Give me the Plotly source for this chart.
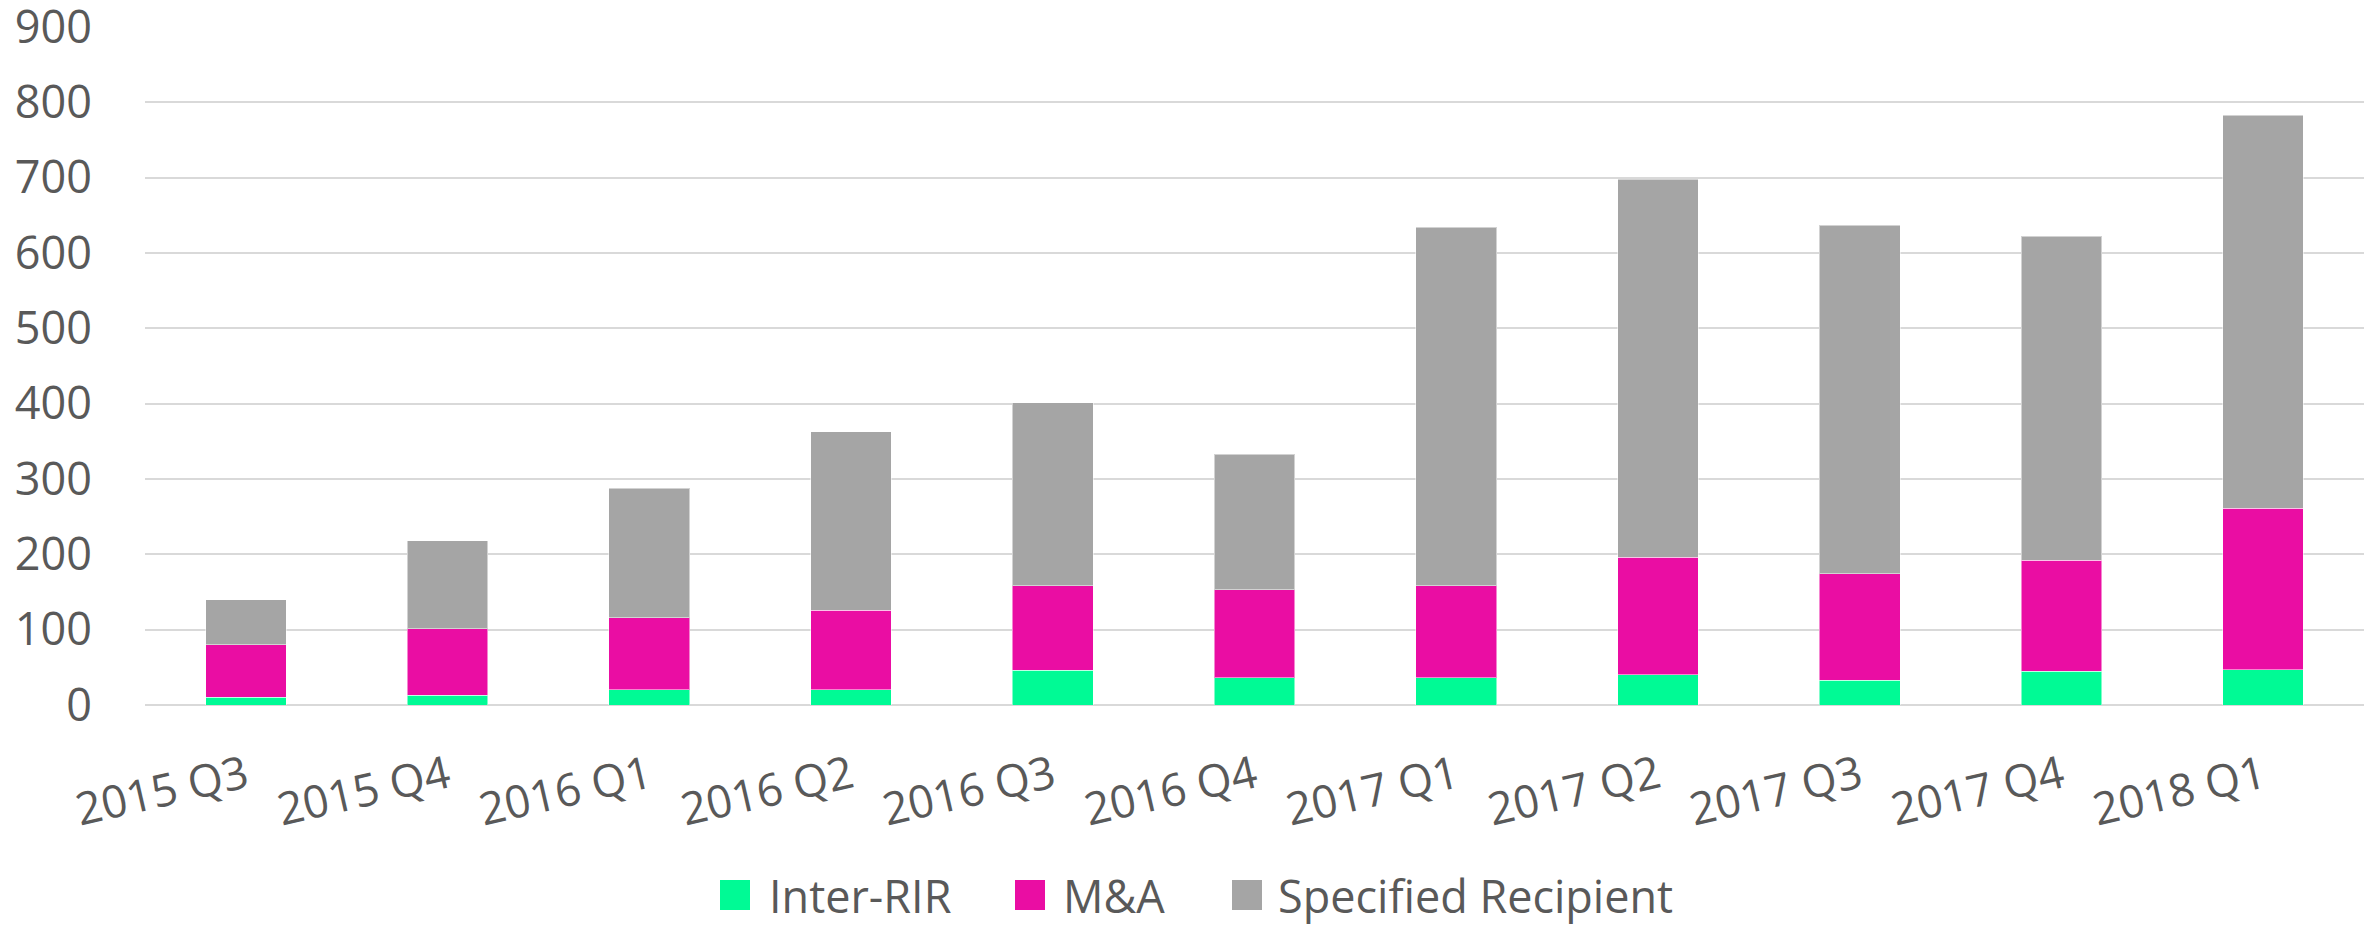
import plotly.graph_objects as go

quarters = ["2015 Q3", "2015 Q4", "2016 Q1", "2016 Q2", "2016 Q3", "2016 Q4",
            "2017 Q1", "2017 Q2", "2017 Q3", "2017 Q4", "2018 Q1"]
inter_rir = [10, 13, 20, 20, 46, 36, 36, 40, 33, 45, 47]
m_and_a = [70, 88, 96, 106, 112, 117, 122, 156, 141, 147, 214]
specified_recipient = [60, 117, 172, 237, 243, 180, 476, 502, 463, 430, 522]
y_ticks = [0, 100, 200, 300, 400, 500, 600, 700, 800, 900]

series_names = ["Inter-RIR", "M&A", "Specified Recipient"]
series_values = [inter_rir, m_and_a, specified_recipient]
series_colors = ["#00FA95", "#EA0DA3", "#A5A5A5"]

# page body has an 8px default margin: shift everything by 8px (top/left)
OFF = 8
W, H = 2377 - OFF, 927 - OFF
ML, MT = 145 - OFF, 27 - OFF
PR, PB = 2364 - OFF, 705 - OFF
MR, MB = W - PR, H - PB
PW, PH = PR - ML, PB - MT
TEXT = "#595959"
FONT = "Open Sans"

fig = go.Figure()
for name, vals, col in zip(series_names, series_values, series_colors):
    fig.add_trace(go.Bar(
        x=quarters, y=vals, name=name, showlegend=False,
        marker=dict(color=col, line=dict(color="rgba(255,255,255,0.5)", width=1)),
    ))

def px_x(p):
    return (p - OFF - ML) / PW

def px_y(p):
    return (PB - (p - OFF)) / PH

# manual legend (large swatches like the reference), positions in page pixels
legend_items = [(720, 767), (1015, 1061), (1232, 1276)]
LEG_Y = 895
shapes, annotations = [], []
for (sx, tx), name, col in zip(legend_items, series_names, series_colors):
    shapes.append(dict(type="rect", xref="paper", yref="paper",
                       x0=px_x(sx), x1=px_x(sx + 30), y0=px_y(LEG_Y + 15), y1=px_y(LEG_Y - 15),
                       fillcolor=col, line=dict(width=0)))
    annotations.append(dict(xref="paper", yref="paper", x=px_x(tx), y=px_y(LEG_Y),
                            xanchor="left", yanchor="middle", text=name, showarrow=False,
                            font=dict(family=FONT, size=45, color=TEXT)))

fig.update_layout(
    width=W, height=H,
    margin=dict(l=ML, r=MR, t=MT, b=MB, pad=0, autoexpand=False),
    barmode="stack", bargap=0.6,
    plot_bgcolor="white", paper_bgcolor="white",
    font=dict(family=FONT, color=TEXT),
    shapes=shapes, annotations=annotations,
    xaxis=dict(tickangle=-13, tickfont=dict(family=FONT, size=45, color=TEXT),
               automargin=False,
               showgrid=False, showline=False, ticks="", ticklabelstandoff=36),
    yaxis=dict(range=[0, 900], tickvals=y_ticks, showgrid=True, gridcolor="#D9D9D9",
               gridwidth=2, zeroline=True, zerolinecolor="#D9D9D9", zerolinewidth=2,
               showline=False, ticks="", ticklabelstandoff=52,
               ticklabeloverflow="allow", automargin=False,
               tickfont=dict(family=FONT, size=45, color=TEXT)),
)

fig.write_html("out.html")
